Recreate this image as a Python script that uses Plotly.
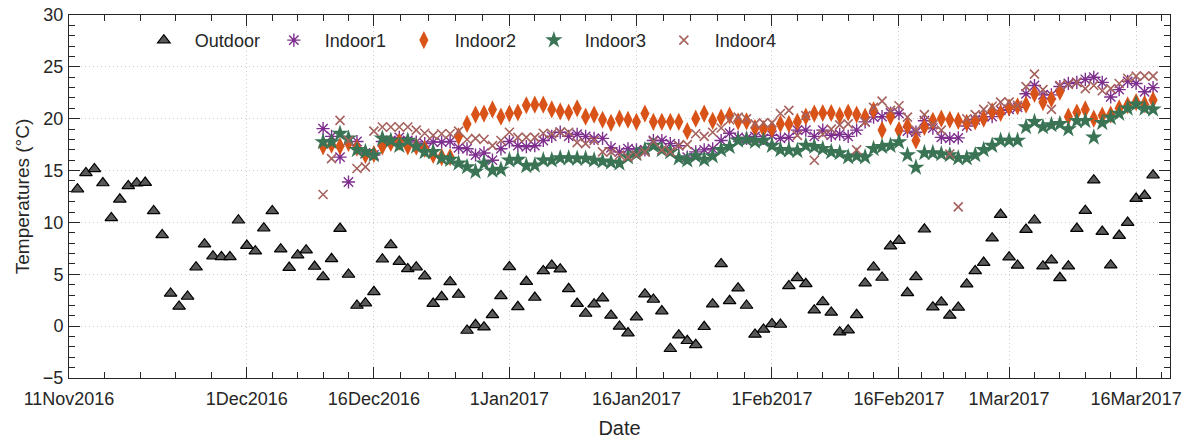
import plotly.graph_objects as go
import pandas as pd

# ---------------- data ----------------
outdoor_start = "2016-11-11"
outdoor_temp = [
    # Nov 11-30
    13.2, 14.77, 15.16, 13.8, 10.43, 12.23, 13.52, 13.78, 13.84, 11.11,
    8.8, 3.15, 1.9, 2.86, 5.68, 7.9, 6.74, 6.68, 6.68, 10.21,
    # Dec 1-31
    7.77, 7.23, 9.44, 11.11, 7.42, 5.65, 6.84, 7.32, 5.75, 4.75,
    6.49, 9.41, 4.98, 1.99, 2.22, 3.31, 6.45, 7.83, 6.23, 5.52,
    5.68, 4.82, 2.18, 2.83, 4.27, 3.05, -0.42, 0.13, -0.1, 1.09, 2.92,
    # Jan 1-31
    5.71, 1.86, 4.3, 2.76, 5.33, 5.85, 5.49, 3.6, 2.18, 1.22,
    2.12, 2.7, 1.03, -0.03, -0.67, 0.87, 3.08, 2.57, 1.45, -2.18,
    -0.87, -1.41, -1.8, -0.06, 2.12, 6.0, 2.44, 3.66, 1.99, -0.8, -0.32,
    # Feb 1-28
    0.22, 0.16, 3.88, 4.66, 4.08, 1.54, 2.34, 1.32, -0.58, -0.39,
    1.09, 4.14, 5.68, 4.69, 7.71, 8.25, 3.21, 4.75, 9.34, 1.83,
    2.31, 1.03, 1.8, 4.05, 5.33, 6.13, 8.48, 10.76,
    # Mar 1-18
    6.65, 5.85, 9.31, 10.21, 5.78, 6.36, 4.66, 5.78, 9.41, 11.14,
    14.07, 9.12, 5.88, 8.73, 9.99, 12.3, 12.59, 14.55,
]

indoor_start = "2016-12-10"
indoor1 = [
    19.04, 18.3, 16.3, 13.9, 17.8, 16.7, 16.5, 17.8, 17.9, 18.2, 17.9,
    17.75, 17.6, 17.75, 17.75, 17.8, 17.2, 17.1, 16.5, 16.7, 16.0, 17.1,
    17.8, 17.4, 17.3, 17.4, 17.9, 18.3, 18.7, 18.3, 18.5, 18.3,
    18.1, 18.1, 17.2, 16.8, 17.1, 17.0, 17.0, 17.9, 17.9, 17.6,
    17.4, 16.3, 16.8, 17.0, 17.1, 17.9, 18.6, 18.2, 18.1, 18.3, 18.1,
    18.4, 18.1, 18.2, 18.9, 18.9, 18.3, 18.9, 18.4, 18.5, 18.3,
    18.9, 19.7, 20.15, 20.2, 20.55, 20.5, 18.8, 18.7, 19.8, 19.1,
    18.2, 18.1, 18.15, 19.3, 19.9, 20.2, 20.2, 20.8,
    20.9, 21.1, 22.4, 23.2, 22.3, 22.3, 23.1, 23.4, 23.5, 23.8,
    24.0, 23.5, 22.1, 22.8, 23.6, 23.4, 22.6, 23.0,
]
indoor2 = [
    17.34, 17.5, 17.34, 17.66, 17.2, 16.5, 16.6, 17.34, 17.66, 17.8, 17.34,
    17.3, 17.1, 16.5, 16.3, 16.3, 18.3, 19.5, 20.4, 20.5, 20.9, 20.2,
    20.5, 20.6, 21.3, 21.35, 21.35, 20.9, 20.7, 20.6, 21.0, 20.2,
    20.4, 19.9, 19.6, 20.0, 19.9, 19.7, 20.5, 19.7, 19.7, 19.7,
    19.7, 18.8, 20.0, 20.5, 19.8, 20.1, 20.3, 19.75, 19.75, 19.1, 19.0,
    19.0, 19.5, 19.5, 19.7, 20.2, 20.5, 20.55, 20.55, 20.3, 20.6,
    20.4, 20.2, 20.8, 18.9, 20.2, 18.9, 19.3, 17.9, 19.2, 19.8,
    20.0, 19.9, 19.8, 19.6, 19.75, 20.0, 20.7, 20.55,
    21.1, 21.2, 21.35, 22.4, 21.6, 21.9, 22.6, 20.2, 20.6, 20.9,
    20.0, 20.3, 20.4, 21.0, 21.3, 21.6, 21.4, 21.8,
]
indoor3 = [
    17.76, 17.76, 18.56, 18.1, 17.0, 16.8, 16.5, 18.1, 17.9, 17.4, 17.9,
    17.34, 16.8, 16.8, 16.2, 16.05, 15.7, 15.35, 14.9, 15.7, 15.0, 15.1,
    16.0, 16.05, 15.45, 15.5, 16.0, 16.0, 16.2, 16.2, 16.15, 16.15,
    16.0, 15.9, 15.8, 15.7, 16.3, 16.6, 17.0, 17.4, 17.0, 16.8,
    16.2, 16.0, 16.4, 16.05, 16.4, 17.0, 17.3, 17.9, 18.0, 17.8, 17.9,
    17.4, 17.0, 16.95, 16.9, 17.4, 17.3, 17.1, 16.8, 16.7, 16.3,
    16.4, 16.3, 17.1, 17.3, 17.4, 17.75, 16.5, 15.3, 16.7, 16.7,
    16.6, 16.5, 16.2, 16.2, 16.5, 17.0, 17.4, 17.9,
    17.9, 17.9, 19.2, 19.7, 19.2, 19.4, 19.5, 19.0, 19.8, 19.8,
    18.2, 19.6, 20.1, 20.5, 21.0, 21.4, 21.0, 20.9,
]
indoor4 = [
    12.69, 16.15, 19.84, 17.9, 15.2, 15.35, 18.8, 19.2, 19.2, 19.2, 19.2,
    18.9, 18.6, 18.4, 18.55, 18.55, 18.8, 18.0, 18.1, 18.0, 17.4, 17.9,
    18.7, 18.2, 18.2, 18.2, 18.6, 18.55, 18.7, 18.7, 17.7, 17.6,
    17.9, 16.8, 16.8, 16.5, 16.3, 16.5, 16.8, 17.8, 17.0, 16.8,
    17.4, 17.5, 18.55, 18.3, 18.7, 19.1, 19.9, 20.15, 20.0, 19.5, 19.6,
    19.6, 20.5, 20.8, 18.4, 20.3, 16.0, 18.5, 19.0, 19.4, 19.5,
    17.0, 19.7, 21.1, 21.7, 20.8, 21.25, 20.15, 18.9, 20.4, 19.4,
    18.9, 16.6, 11.5, 20.0, 20.4, 20.9, 21.2, 21.6,
    21.6, 21.3, 23.1, 24.3, 22.8, 20.9, 23.2, 23.3, 23.5, 22.9,
    23.2, 22.7, 22.9, 23.4, 23.9, 24.1, 24.1, 24.1,
]

tick_dates = ["2016-11-10", "2016-12-01", "2016-12-16", "2017-01-01", "2017-01-16",
              "2017-02-01", "2017-02-16", "2017-03-01", "2017-03-16"]
tick_labels = ["11Nov2016", "1Dec2016", "16Dec2016", "1Jan2017", "16Jan2017",
               "1Feb2017", "16Feb2017", "1Mar2017", "16Mar2017"]
x_range = ["2016-11-10", "2017-03-20"]
y_ticks = [-5, 0, 5, 10, 15, 20, 25, 30]

# ---------------- build ----------------
out_dates = pd.date_range(outdoor_start, periods=len(outdoor_temp), freq="D")
in_dates = pd.date_range(indoor_start, periods=len(indoor1), freq="D")

# minor ticks: 5 subdivisions per major interval, then continue after last
td = pd.to_datetime(tick_dates)
minor = []
for a, b in zip(td[:-1], td[1:]):
    step = (b - a) / 5
    for k in range(1, 5):
        minor.append(a + k * step)
minor.append(td[-1] + pd.Timedelta(days=3))
minor_str = [m.strftime("%Y-%m-%d %H:%M:%S") for m in minor]

fig = go.Figure()
fig.add_trace(go.Scatter(
    x=out_dates, y=outdoor_temp, mode="markers", name="Outdoor",
    marker=dict(symbol="triangle-up", size=11, color="#595959",
                line=dict(color="#000000", width=1.2))))
fig.add_trace(go.Scatter(
    x=in_dates, y=indoor1, mode="markers", name="Indoor1",
    marker=dict(symbol="asterisk-open", size=11, color="#7E2F8E",
                line=dict(color="#7E2F8E", width=1.4))))
fig.add_trace(go.Scatter(
    x=in_dates, y=indoor2, mode="markers", name="Indoor2",
    marker=dict(symbol="diamond-tall", size=13, color="#D95319",
                line=dict(width=0))))
fig.add_trace(go.Scatter(
    x=in_dates, y=indoor3, mode="markers", name="Indoor3",
    marker=dict(symbol="star", size=13, color="#3A7455",
                line=dict(width=0))))
fig.add_trace(go.Scatter(
    x=in_dates, y=indoor4, mode="markers", name="Indoor4",
    marker=dict(symbol="x-thin-open", size=9, color="#A5625E",
                line=dict(color="#A5625E", width=1.6))))

font_family = "Liberation Sans, Arial, sans-serif"
fig.update_layout(
    width=1192, height=439,
    margin=dict(l=69, r=22, t=15, b=61, autoexpand=False),
    paper_bgcolor="white", plot_bgcolor="white",
    font=dict(family=font_family, size=18, color="#262626"),
    showlegend=True,
    legend=dict(orientation="h", x=0.058, y=0.93, xanchor="left", yanchor="middle",
                bgcolor="rgba(0,0,0,0)", font=dict(size=18, color="#262626"),
                entrywidth=63, entrywidthmode="pixels", itemwidth=52),
)
fig.update_xaxes(
    type="date", range=x_range, automargin=False,
    tickmode="array", tickvals=tick_dates, ticktext=tick_labels,
    ticks="inside", ticklen=11, tickwidth=1, tickcolor="#262626",
    showline=True, linecolor="#262626", linewidth=1, mirror="allticks",
    showgrid=True, gridcolor="#cccccc", griddash="1px,3px", gridwidth=1,
    zeroline=False,
    minor=dict(tickmode="array", tickvals=minor_str, ticks="inside", ticklen=6,
               tickcolor="#262626", showgrid=False),
    title=dict(text="Date", font=dict(size=20), standoff=13),
    tickfont=dict(size=18),
    ticklabelstandoff=4, ticklabeloverflow="allow",
)
fig.update_yaxes(
    range=[-5, 30], automargin=False,
    tickmode="array", tickvals=y_ticks,
    ticks="inside", ticklen=11, tickwidth=1, tickcolor="#262626",
    showline=True, linecolor="#262626", linewidth=1, mirror="allticks",
    showgrid=True, gridcolor="#cccccc", griddash="1px,3px", gridwidth=1,
    zeroline=False,
    minor=dict(dtick=1, tick0=0, ticks="inside", ticklen=6, tickcolor="#262626",
               showgrid=False),
    title=dict(text="Temperatures (°C)", font=dict(size=19), standoff=8),
    tickfont=dict(size=18),
    ticklabelstandoff=1, ticklabeloverflow="allow",
)

fig.write_html("out.html",
               config={"displayModeBar": False},
               post_script="document.body.style.margin='0px';document.body.style.padding='0px';")
